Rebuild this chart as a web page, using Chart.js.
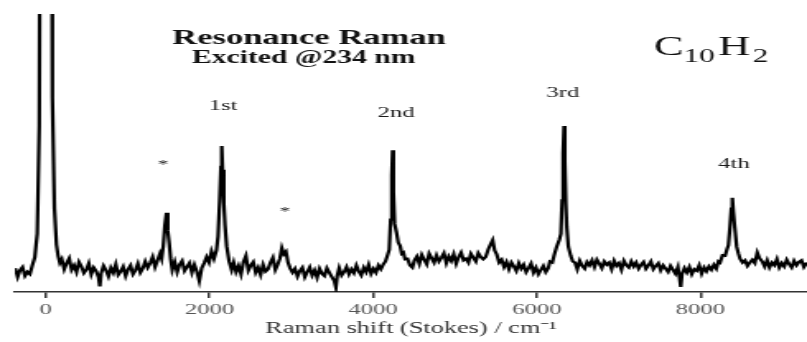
<!DOCTYPE html>
<html>
<head>
<meta charset="utf-8">
<script src="https://cdn.jsdelivr.net/npm/chart.js@4.4.1/dist/chart.umd.min.js"></script>
<style>
html,body{margin:0;padding:0;background:#fff;}
</style>
</head>
<body>
<canvas id="c" width="490" height="342" style="display:block;width:807px;height:342px;"></canvas>
<script>
// Raman shift (cm-1) and intensity (arb. units, 0..100 visible)
const shift = [
 -375,-345,-315,-285,-255,-225,-195,-165,-135,-105,
 -80,-72,-45,-15,15,45,72,80,105,130,
 150,171,195,225,255,285,315,345,375,405,
 435,465,495,525,555,585,615,645,660,675,
 705,735,765,795,825,855,885,915,945,975,
 1005,1035,1065,1095,1125,1155,1185,1215,1245,1275,
 1305,1335,1365,1395,1415,1435,1455,1475,1490,1508,
 1525,1545,1575,1605,1635,1665,1695,1725,1755,1785,
 1815,1845,1875,1905,1935,1965,1995,2025,2055,2085,
 2105,2125,2140,2150,2160,2175,2190,2210,2240,2270,
 2295,2325,2355,2385,2415,2445,2475,2505,2535,2565,
 2595,2625,2655,2685,2715,2745,2775,2805,2835,2860,
 2885,2910,2935,2960,2985,3015,3045,3075,3105,3135,
 3165,3195,3225,3255,3285,3315,3345,3375,3405,3435,
 3465,3495,3525,3545,3560,3585,3615,3645,3675,3705,
 3735,3765,3795,3825,3855,3885,3915,3945,3975,4005,
 4035,4065,4095,4125,4150,4170,4197,4214,4228,4238,
 4248,4262,4285,4307,4330,4350,4370,4390,4420,4450,
 4480,4505,4535,4565,4595,4625,4655,4685,4715,4745,
 4775,4805,4835,4865,4895,4925,4955,4985,5015,5045,
 5075,5105,5135,5165,5195,5225,5255,5285,5315,5345,
 5375,5408,5435,5461,5485,5510,5540,5571,5600,5630,
 5660,5690,5720,5750,5780,5810,5840,5870,5900,5930,
 5960,5990,6020,6050,6080,6110,6140,6161,6190,6210,
 6243,6275,6295,6310,6322,6333,6343,6355,6366,6386,
 6415,6440,6467,6495,6525,6555,6585,6615,6645,6675,
 6705,6735,6765,6795,6825,6855,6885,6915,6945,6975,
 7005,7035,7065,7095,7125,7155,7185,7215,7245,7275,
 7305,7335,7365,7395,7425,7455,7485,7515,7545,7575,
 7605,7635,7665,7695,7725,7745,7760,7775,7805,7835,
 7865,7895,7925,7955,7985,8015,8045,8075,8105,8135,
 8165,8195,8220,8240,8270,8301,8325,8342,8362,8378,
 8390,8402,8419,8443,8465,8484,8515,8545,8575,8605,
 8635,8665,8695,8725,8755,8785,8815,8845,8875,8905,
 8935,8965,8995,9025,9055,9085,9115,9145,9175,9205,
 9235,9265,9300
];
const intensity = [
 8.6,5.4,7.9,9.0,5.8,7.2,6.4,9.6,12.5,21,
 60,140,400,400,400,400,140,70,30,17,
 13,10.5,11.8,8.2,10.4,12.1,8.0,9.6,7.2,10.8,
 9.2,6.8,8.0,10.3,6.4,8.8,7.5,5.2,2.0,6.6,
 9.4,7.8,5.6,8.7,6.9,9.9,6.2,7.4,9.1,5.8,
 8.2,9.6,6.4,7.8,10.2,7.0,8.5,11.0,8.8,10.4,
 12.6,9.0,11.4,13.8,12.0,16.5,24,28.5,22,17.5,
 12.0,8.0,10.8,7.2,9.9,11.2,7.6,9.0,10.4,7.0,
 9.8,7.4,4.0,8.6,10.4,12.6,10.6,14.6,12.0,15.0,
 20,33,45,52.5,44,32,24,16.5,11.0,8.0,
 10.6,7.2,9.4,6.4,10.8,13.0,7.8,9.6,10.8,7.0,
 8.8,6.2,9.8,7.4,8.2,10.6,12.4,8.0,10.0,12.0,
 15.8,13.6,14.5,10.6,8.6,7.0,8.4,5.6,7.6,8.8,
 5.4,7.2,8.9,6.0,7.8,5.2,8.4,6.6,5.8,8.6,
 7.0,5.4,4.0,1.6,5.6,8.6,6.0,7.2,9.0,6.4,
 8.2,6.8,9.6,7.4,6.0,8.8,7.2,9.8,6.6,8.4,
 7.0,9.6,8.2,10.0,11.0,12.7,15.2,26,42,51,
 36,24.5,21.5,17.8,16.6,13.8,14.2,11.8,12.0,9.6,
 8.8,11.4,12.8,10.2,13.4,11.6,10.0,13.8,12.2,10.6,
 13.2,11.0,12.4,14.0,10.4,12.8,11.2,13.6,10.2,12.6,
 14.2,11.4,12.0,10.6,13.8,12.4,11.0,14.0,12.6,11.8,
 12.6,15.4,17.2,18.7,15.0,13.6,10.6,11.6,9.0,10.8,
 8.2,10.6,9.2,7.6,10.4,8.4,9.8,7.2,8.6,10.2,
 7.0,8.8,6.4,8.0,9.4,7.2,8.6,11.0,10.6,13.0,
 16.3,18.7,21,33,50,59.7,47,32,23.5,16.3,
 13.0,11.0,10.6,8.2,11.2,9.4,8.4,10.8,9.6,11.4,
 9.0,11.6,10.2,8.6,11.0,9.8,10.6,8.2,11.2,9.4,
 10.4,8.0,11.2,9.6,8.8,11.0,9.2,10.6,8.4,9.8,
 10.8,8.4,9.6,11.0,8.2,9.4,10.4,7.8,9.6,8.4,
 7.2,9.4,8.0,6.6,9.0,5.2,1.8,6.4,8.6,7.0,
 9.0,6.4,8.2,7.6,9.6,6.6,8.8,7.4,9.2,8.0,
 9.8,8.4,11.0,10.6,13.2,13.0,15.4,16.8,23.5,30,
 33.9,29,23.5,16.3,13.8,12.0,10.6,11.4,9.4,10.6,
 11.6,10.4,14.2,12.0,11.0,9.2,11.4,8.8,10.6,9.6,
 11.8,8.8,10.4,9.2,11.6,10.0,8.8,11.2,9.6,10.8,
 11.4,9.0,10.6
];
const xTicks = [0, 2000, 4000, 6000, 8000];
const xTitle = 'Raman shift (Stokes) / cm\u207B\u00B9';
const titleLines = ['Resonance Raman', 'Excited @234 nm'];
const peakLabels = ['1st', '2nd', '3rd', '4th'];
const starLabel = '*';
const formula = ['C', '10', 'H', '2'];

const SERIF = '"Liberation Serif", "Times New Roman", serif';

const textPlugin = {
  id: 'texts',
  afterDraw(chart) {
    const ctx = chart.ctx;
    ctx.save();
    ctx.fillStyle = '#111';
    ctx.textAlign = 'center';
    ctx.textBaseline = 'alphabetic';
    ctx.font = 'bold 21px ' + SERIF;
    ctx.fillText(titleLines[0], 187.6, 44);
    ctx.font = 'bold 18px ' + SERIF;
    ctx.fillText(titleLines[1], 184.3, 63);
    ctx.font = '15px ' + SERIF;
    ctx.fillStyle = '#1a1a1a';
    const lp = [[135.4, 110], [240.4, 117], [341.8, 96.5], [445.7, 168]];
    peakLabels.forEach((t, i) => ctx.fillText(t, lp[i][0], lp[i][1]));
    ctx.font = '13px ' + SERIF;
    ctx.fillText(starLabel, 99, 168);
    ctx.fillText(starLabel, 173, 215);
    ctx.textAlign = 'left';
    ctx.fillStyle = '#111';
    let x = 397;
    const big = '27px ' + SERIF, small = '19px ' + SERIF;
    const gap = [0, 2, 1.5, 0];
    formula.forEach((t, i) => {
      const sub = i % 2 === 1;
      ctx.font = sub ? small : big;
      ctx.fillText(t, x, sub ? 62 : 55);
      x += ctx.measureText(t).width + gap[i];
    });
    ctx.restore();
  }
};

new Chart(document.getElementById('c'), {
  type: 'line',
  data: {
    datasets: [{
      data: shift.map((s, i) => ({x: s, y: intensity[i]})),
      borderColor: '#000',
      borderWidth: 2.2,
      pointRadius: 0,
      tension: 0,
      fill: false
    }]
  },
  options: {
    responsive: false,
    animation: false,
    devicePixelRatio: 1,
    layout: {padding: {top: 14, left: 9, right: 0, bottom: 0}},
    plugins: {legend: {display: false}, tooltip: {enabled: false}},
    scales: {
      x: {
        type: 'linear',
        min: -379,
        max: 9303,
        afterBuildTicks: s => { s.ticks = xTicks.map(v => ({value: v})); },
        afterFit: s => { s.height = 50; },
        grid: {display: true, drawOnChartArea: false, drawTicks: true, tickLength: 6, color: '#333', lineWidth: 1.5},
        border: {display: true, color: '#333', width: 1.5},
        ticks: {font: {family: SERIF, size: 15}, color: '#555', padding: 3, maxRotation: 0, autoSkip: false,
                callback: v => String(v)},
        title: {display: true, text: xTitle, font: {family: SERIF, size: 16}, color: '#333', padding: {top: 0, bottom: 4}}
      },
      y: {display: false, min: 0, max: 100}
    }
  },
  plugins: [textPlugin]
});
</script>
</body>
</html>
